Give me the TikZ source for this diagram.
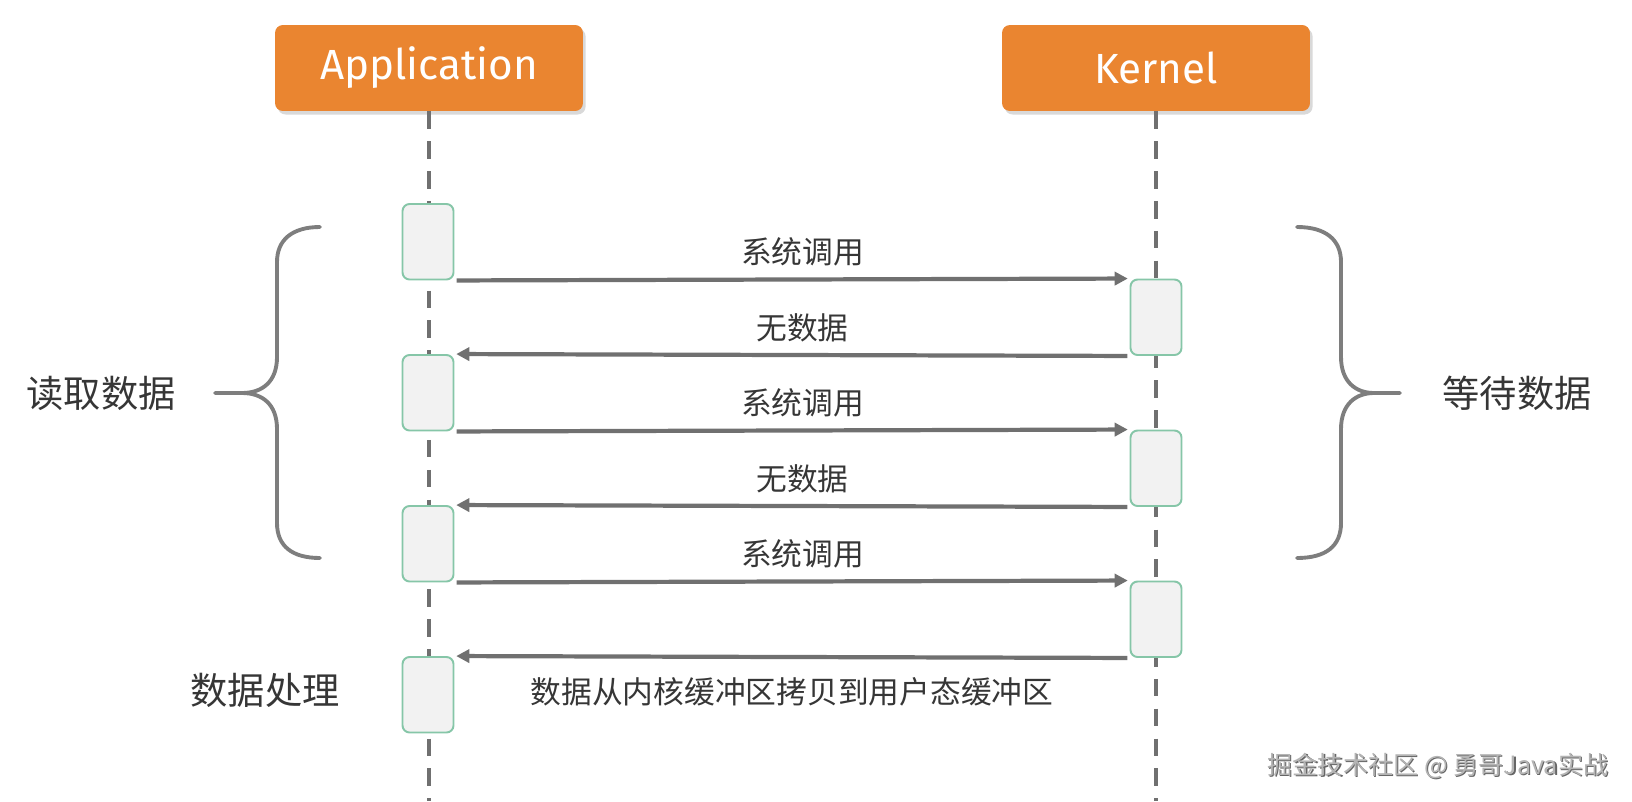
\documentclass[tikz,border=0pt]{standalone}
\usepackage{fontspec}
\setmainfont{Fira Sans}
\newfontfamily\cjk{Noto Sans CJK SC}
\usetikzlibrary{arrows.meta,positioning,shadows}
\definecolor{headc}{HTML}{EA8530}
\definecolor{actfill}{HTML}{F2F2F2}
\definecolor{actline}{HTML}{86C6A8}
\definecolor{linec}{HTML}{707070}
\definecolor{textc}{HTML}{363636}
\definecolor{markc}{HTML}{B4B4B4}
\tikzset{
  head/.style={rectangle,rounded corners=4.5pt,fill=headc,text=white,minimum width=6.16cm,minimum height=1.72cm,
    font=\fontsize{24}{28}\selectfont,drop shadow={shadow xshift=1.5pt,shadow yshift=-2pt,opacity=0.3}},
  act/.style={rectangle,rounded corners=4pt,draw=actline,line width=1.1pt,fill=actfill,minimum width=1.02cm,minimum height=1.51cm,inner sep=0pt},
  life/.style={linec,line width=2.2pt,dash pattern=on 10pt off 7pt},
  msg/.style={-{Triangle[length=7.5pt,width=7.5pt]},linec,line width=2.4pt,shorten <=1.2pt,shorten >=1pt},
  lab/.style={font=\cjk\fontsize{17.5}{20}\selectfont,text=textc},
  side/.style={font=\cjk\fontsize{21.2}{24}\selectfont,text=textc},
  brace/.style={linec!90,line width=2.2pt,line cap=round,line join=round}
}
\begin{document}
\begin{tikzpicture}[x=0.02cm,y=-0.02cm]
\useasboundingbox (0,0) rectangle (1632,801);
% participants
\node[head] (app) at (429,68) {Application};
\node[head] (kern) at (1156,68) {Kernel};
\draw[life] (app.south) -- ++(0,690);
\draw[life] (kern.south) -- ++(0,690);
% activation boxes
\foreach \n/\x/\k in {a1/428/0,k1/1156/1,a2/428/2,k2/1156/3,a3/428/4,k3/1156/5,a4/428/6}
  \node[act] (\n) at (\x,{241.75+75.5*\k}) {};
% messages
\draw[msg] (a1.south east) -- node[lab,above=3pt,xshift=6pt] {系统调用} (k1.north west);
\draw[msg] (k1.south west) -- node[lab,above=3pt,xshift=6pt] {无数据} (a2.north east);
\draw[msg] (a2.south east) -- node[lab,above=3pt,xshift=6pt] {系统调用} (k2.north west);
\draw[msg] (k2.south west) -- node[lab,above=3pt,xshift=6pt] {无数据} (a3.north east);
\draw[msg] (a3.south east) -- node[lab,above=3pt,xshift=6pt] {系统调用} (k3.north west);
\draw[msg] (k3.south west) -- node[lab,below=7pt] {数据从内核缓冲区拷贝到用户态缓冲区} (a4.north east);
% braces
\draw[brace] (320,227) .. controls (292,227) and (277,240) .. (277,262) -- (277,357)
  .. controls (277,382) and (262,393) .. (242,393) -- (215,393) -- (242,393)
  .. controls (262,393) and (277,404) .. (277,429) -- (277,523)
  .. controls (277,546) and (292,558) .. (320,558);
\draw[brace] (1297,227) .. controls (1326,227) and (1341,240) .. (1341,262) -- (1341,357)
  .. controls (1341,382) and (1356,393) .. (1374,393) -- (1400,393) -- (1374,393)
  .. controls (1356,393) and (1341,404) .. (1341,429) -- (1341,523)
  .. controls (1341,546) and (1326,558) .. (1297,558);
% side labels
\node[side] (read) at (101,393) {读取数据};
\node[side] (wait) at (1517,393) {等待数据};
\node[side] (proc) at (265,690) {数据处理};
% watermark
\node[font=\cjk\fontsize{14.3}{17}\selectfont,text=black!60] (wmshadow) at ([shift={(0.7pt,-0.7pt)}]1438,766) {掘金技术社区 @ 勇哥Java实战};
\node[font=\cjk\fontsize{14.3}{17}\selectfont,text=markc] (wm) at (1438,766) {掘金技术社区 @ 勇哥Java实战};
\end{tikzpicture}
\end{document}
